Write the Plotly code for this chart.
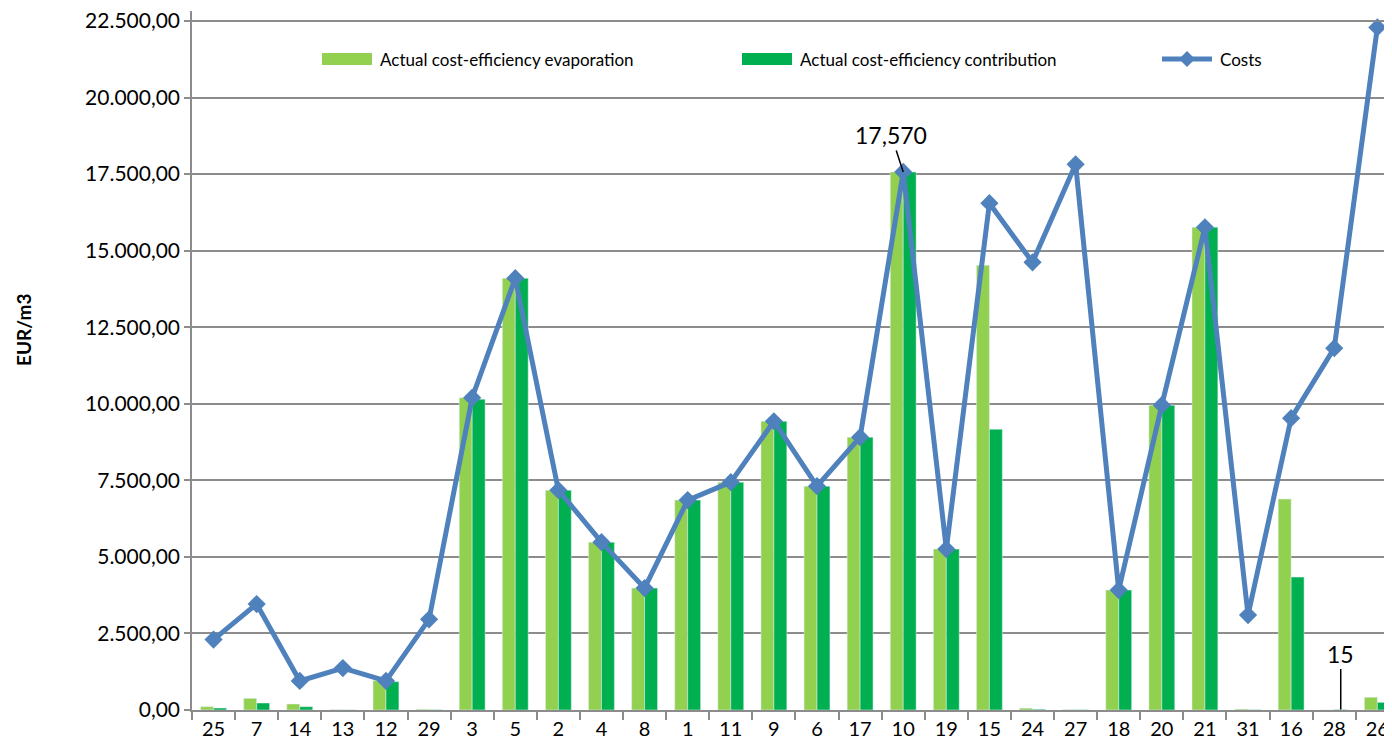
import plotly.graph_objects as go

# site numbers, in the order shown on the x axis
sites = ["25", "7", "14", "13", "12", "29", "3", "5", "2", "4", "8", "1", "11", "9",
         "6", "17", "10", "19", "15", "24", "27", "18", "20", "21", "31", "16", "28", "26"]

evaporation = [108, 380, 196, 10, 960, 25, 10200, 14100, 7180, 5480, 3980, 6855, 7440, 9430,
               7310, 8910, 17570, 5255, 14525, 60, 15, 3917, 9955, 15765, 30, 6887, 0, 415]
contribution = [65, 228, 108, 5, 925, 10, 10150, 14100, 7180, 5480, 3980, 6855, 7440, 9430,
                7310, 8910, 17570, 5255, 9170, 25, 10, 3917, 9955, 15765, 10, 4341, 15, 250]
costs = [2300, 3460, 950, 1370, 950, 2960, 10200, 14100, 7180, 5480, 3980, 6855, 7440, 9430,
         7310, 8910, 17570, 5255, 16550, 14620, 17820, 3917, 9955, 15765, 3100, 9530, 11816, 22290]

names = ["Actual cost-efficiency evaporation", "Actual cost-efficiency contribution", "Costs"]
colors = ["#92D050", "#00B050", "#4F81BD"]

FONT = "Lato"
GRID = "#8C8C8C"

fig = go.Figure()
fig.add_trace(go.Bar(x=sites, y=evaporation, name=names[0], marker_color=colors[0]))
fig.add_trace(go.Bar(x=sites, y=contribution, name=names[1], marker_color=colors[1]))
fig.add_trace(go.Scatter(x=sites, y=costs, name=names[2], mode="lines+markers",
                         line=dict(color=colors[2], width=5),
                         marker=dict(symbol="diamond", size=14, color=colors[2])))

# plot area in page pixels: left 192, right 1392, top 11, bottom 710
# (the page body has an 8px margin, the figure is sized to fit inside it)
def px_x(p):
    return (p - 192) / 1200.0

def px_y(p):
    return (710 - p) / 699.0

# hand-made legend, like the spreadsheet one
shapes = []
annotations = []
leg_y = 59
for start, name, col, kind in [(322, names[0], colors[0], "bar"),
                                (742, names[1], colors[1], "bar"),
                                (1162, names[2], colors[2], "line")]:
    if kind == "bar":
        shapes.append(dict(type="rect", xref="paper", yref="paper",
                           x0=px_x(start), x1=px_x(start + 50),
                           y0=px_y(leg_y + 6), y1=px_y(leg_y - 6),
                           fillcolor=col, line=dict(width=0)))
    else:
        shapes.append(dict(type="line", xref="paper", yref="paper",
                           x0=px_x(start), x1=px_x(start + 50),
                           y0=px_y(leg_y), y1=px_y(leg_y),
                           line=dict(color=col, width=5)))
        shapes.append(dict(type="path", xref="paper", yref="paper",
                           xsizemode="pixel", ysizemode="pixel",
                           xanchor=px_x(start + 25), yanchor=px_y(leg_y),
                           path="M0,-8 L8,0 L0,8 L-8,0 Z",
                           fillcolor=col, line=dict(width=0)))
    annotations.append(dict(x=px_x(start + 56), y=px_y(leg_y), xref="paper", yref="paper",
                            text=name, showarrow=False, xanchor="left", yanchor="middle",
                            font=dict(family=FONT, size=17, color="#000000")))

# top gridline drawn by hand
shapes.append(dict(type="line", xref="paper", yref="paper", x0=0, x1=1,
                   y0=px_y(21), y1=px_y(21),
                   line=dict(color=GRID, width=1.5), layer="above"))

# data labels with leader lines (x given as category index)
i10 = sites.index("10")
i28 = sites.index("28")
annotations.append(dict(x=i10, y=costs[i10], text="17,570", showarrow=True, arrowhead=0,
                        arrowwidth=1.5, arrowcolor="#000000", ax=-12, ay=-37, standoff=0,
                        font=dict(family=FONT, size=23, color="#000000")))
annotations.append(dict(x=i28, y=contribution[i28], text="15", showarrow=True, arrowhead=0,
                        arrowwidth=1.5, arrowcolor="#000000", ax=0, ay=-56, standoff=0,
                        xshift=6.5,
                        font=dict(family=FONT, size=23, color="#000000")))

# y axis title
annotations.append(dict(x=px_x(23), y=px_y(330), xref="paper", yref="paper",
                        xanchor="center", yanchor="middle",
                        text="<b>EUR/m3</b>", textangle=-90, showarrow=False,
                        font=dict(family=FONT, size=19, color="#000000")))

fig.update_layout(
    width=1384, height=745,
    margin=dict(l=184, r=0, t=3, b=43),
    paper_bgcolor="white", plot_bgcolor="white",
    barmode="group", bargap=0.4, bargroupgap=0,
    separators=",.",
    showlegend=False,
    font=dict(family=FONT, size=20, color="#000000"),
    shapes=shapes, annotations=annotations,
)
fig.update_xaxes(type="category", range=[-0.5, 27.34], tickson="boundaries",
                 ticks="outside", ticklen=8, tickcolor=GRID, tickwidth=1.5,
                 showline=True, linecolor=GRID, linewidth=1.5, showgrid=False,
                 tickfont=dict(family=FONT, size=20, color="#000000"))
fig.update_yaxes(range=[0, 22826], dtick=2500, tickformat=",.2f",
                 ticks="outside", ticklen=6, tickcolor=GRID, tickwidth=1.5,
                 showline=True, linecolor=GRID, linewidth=1.5,
                 showgrid=True, gridcolor=GRID, gridwidth=1.5, zeroline=False,
                 ticklabeloverflow="allow",
                 tickfont=dict(family=FONT, size=21, color="#000000"))

fig.write_html("out.html")
